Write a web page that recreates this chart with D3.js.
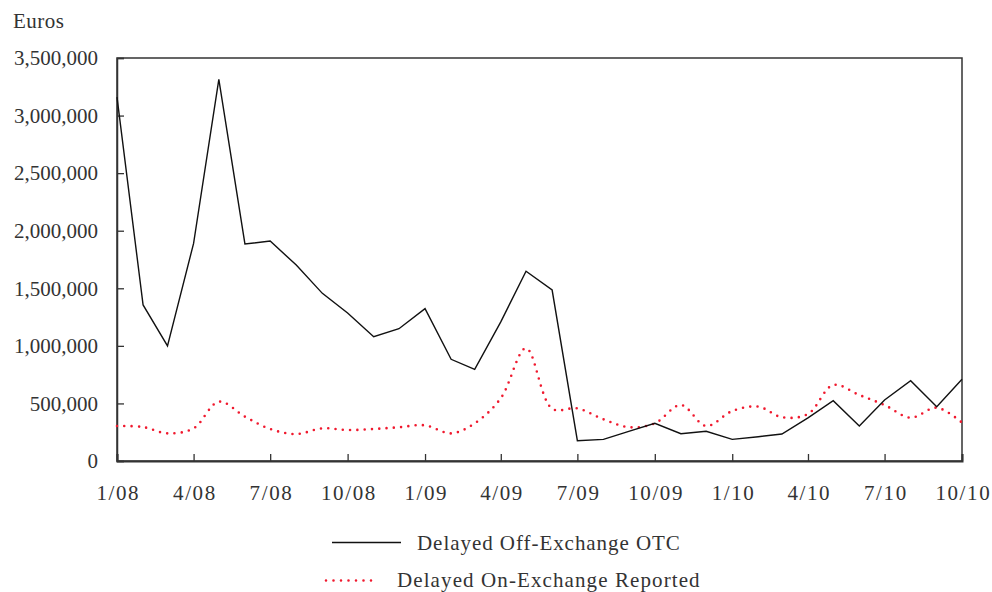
<!DOCTYPE html>
<html>
<head>
<meta charset="utf-8">
<script src="https://cdn.jsdelivr.net/npm/d3@7"></script>
<style>
  html, body { margin: 0; padding: 0; background: #fff; }
  svg { display: block; }
  text { font-family: "Liberation Serif", "DejaVu Serif", serif; fill: #333; }
</style>
</head>
<body>
<svg id="chart" width="992" height="592"></svg>
<script>
// ---- Data (monthly, Jan 2008 – Oct 2010) ----
const months = [
  "2008-01","2008-02","2008-03","2008-04","2008-05","2008-06","2008-07","2008-08","2008-09","2008-10","2008-11","2008-12",
  "2009-01","2009-02","2009-03","2009-04","2009-05","2009-06","2009-07","2009-08","2009-09","2009-10","2009-11","2009-12",
  "2010-01","2010-02","2010-03","2010-04","2010-05","2010-06","2010-07","2010-08","2010-09","2010-10"
];
const offExchangeOTC = [
  3160000, 1355000, 1000000, 1890000, 3315000, 1885000, 1910000, 1702000, 1456000, 1285000, 1080000, 1149000,
  1323000, 883000, 796000, 1208000, 1648000, 1485000, 176000, 188000, 260000, 327000, 237000, 258000,
  188000, 211000, 234000, 375000, 524000, 304000, 530000, 697000, 472000, 710000
];
const onExchangeReported = [
  304000, 295000, 240000, 284000, 515000, 385000, 278000, 234000, 284000, 269000, 278000, 293000,
  310000, 240000, 327000, 545000, 979000, 454000, 457000, 362000, 293000, 327000, 486000, 304000,
  434000, 472000, 380000, 408000, 660000, 573000, 486000, 376000, 463000, 333000
];
const xTickDates = ["2008-01","2008-04","2008-07","2008-10","2009-01","2009-04","2009-07","2009-10","2010-01","2010-04","2010-07","2010-10"];
const xTickLabels = ["1/08","4/08","7/08","10/08","1/09","4/09","7/09","10/09","1/10","4/10","7/10","10/10"];
const yTicks = [0, 500000, 1000000, 1500000, 2000000, 2500000, 3000000, 3500000];
const seriesNames = ["Delayed Off-Exchange OTC", "Delayed On-Exchange Reported"];

// ---- Layout ----
const mLeft = 117, mRight = 962, mTop = 58, mBottom = 461;
const parseM = d3.timeParse("%Y-%m");
const dates = months.map(parseM);

const svg = d3.select("#chart");

const x = d3.scaleTime()
  .domain([parseM("2008-01"), parseM("2010-10")])
  .range([mLeft, mRight]);
const y = d3.scaleLinear()
  .domain([0, 3500000])
  .range([mBottom, mTop]);

// Frame
svg.append("rect")
  .attr("x", mLeft).attr("y", mTop)
  .attr("width", mRight - mLeft).attr("height", mBottom - mTop)
  .attr("fill", "none").attr("stroke", "#333").attr("stroke-width", 1.5);

// Y axis
const yAxis = d3.axisLeft(y)
  .tickValues(yTicks)
  .tickSize(-7)
  .tickPadding(19)
  .tickFormat(d3.format(","));
const gy = svg.append("g").attr("transform", `translate(${mLeft},0)`).call(yAxis);
gy.select(".domain").attr("stroke", "#333").attr("stroke-width", 1.5);
gy.selectAll(".tick line").attr("stroke", "#333").attr("stroke-width", 1.3);
gy.selectAll(".tick text").attr("font-size", 21).attr("fill", "#333")
  .attr("font-family", "Liberation Serif, serif");

// X axis
const xTickValues = xTickDates.map(parseM);
const xAxis = d3.axisBottom(x)
  .tickValues(xTickValues)
  .tickSize(-7)
  .tickPadding(24)
  .tickFormat((d, i) => xTickLabels[i]);
const gx = svg.append("g").attr("transform", `translate(0,${mBottom})`).call(xAxis);
gx.select(".domain").attr("stroke", "#333").attr("stroke-width", 2);
gx.selectAll(".tick line").attr("stroke", "#333").attr("stroke-width", 1.3);
gx.selectAll(".tick text").attr("font-size", 21).attr("fill", "#333")
  .attr("font-family", "Liberation Serif, serif")
  .attr("letter-spacing", 1.6)
  .attr("dx", 0.8);

// Y unit label
svg.append("text").attr("x", 13).attr("y", 28).attr("font-size", 21)
  .attr("letter-spacing", 0.5).text("Euros");

// Lines
const lineOTC = d3.line()
  .x((d, i) => x(dates[i]))
  .y(d => y(d));
const lineOn = d3.line()
  .x((d, i) => x(dates[i]))
  .y(d => y(d))
  .curve(d3.curveCatmullRom.alpha(0.5));

svg.append("path")
  .datum(onExchangeReported)
  .attr("d", lineOn)
  .attr("fill", "none")
  .attr("stroke", "#f0192e")
  .attr("stroke-width", 2.6)
  .attr("stroke-linecap", "round")
  .attr("stroke-dasharray", "0 7.3");

svg.append("path")
  .datum(offExchangeOTC)
  .attr("d", lineOTC)
  .attr("fill", "none")
  .attr("stroke", "#111")
  .attr("stroke-width", 1.4)
  .attr("stroke-linejoin", "miter");

// Legend
const lg = svg.append("g");
lg.append("line").attr("x1", 332).attr("x2", 401).attr("y1", 542.5).attr("y2", 542.5)
  .attr("stroke", "#111").attr("stroke-width", 1.4);
lg.append("text").attr("x", 417).attr("y", 549.5).attr("font-size", 21)
  .attr("letter-spacing", 0.95).text(seriesNames[0]);
lg.append("line").attr("x1", 326).attr("x2", 372).attr("y1", 580.5).attr("y2", 580.5)
  .attr("stroke", "#f0192e").attr("stroke-width", 2.6)
  .attr("stroke-linecap", "round").attr("stroke-dasharray", "0 7.5");
lg.append("text").attr("x", 397).attr("y", 587).attr("font-size", 21)
  .attr("letter-spacing", 1.1).text(seriesNames[1]);
</script>
</body>
</html>
